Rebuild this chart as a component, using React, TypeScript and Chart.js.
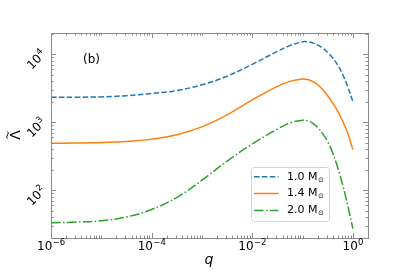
import { useEffect, useRef } from "react";
import { Chart, registerables } from "chart.js";

Chart.register(...registerables);

// ---- data ----
const qValues = [
  1e-6, 3.16e-6, 1e-5, 3.16e-5, 1e-4, 3.16e-4, 1e-3, 3.16e-3, 1e-2, 3.16e-2, 5.62e-2,
  0.1, 0.126, 0.158, 0.2, 0.251, 0.316, 0.398, 0.501, 0.631, 0.794, 1,
];
const lambda10 = [
  2317, 2333, 2355, 2455, 2642, 2917, 3548, 4732, 7079, 10965, 13335,
  15136, 15205, 14622, 13646, 12246, 10544, 8770, 6887, 5012, 3311, 1995,
];
const lambda14 = [
  490, 495, 504, 521, 565, 656, 855, 1279, 2123, 3365, 3981,
  4315, 4236, 3972, 3548, 3013, 2443, 1905, 1439, 1035, 681, 396,
];
const lambda20 = [
  33.4, 34.3, 35.9, 40.7, 52.5, 78.5, 141, 269, 479, 794, 977,
  1072, 1050, 968, 839, 682, 518, 353, 215, 118, 59.3, 27.4,
];
const massLabels = ["1.0", "1.4", "2.0"];

const xTickValues = [1e-6, 1e-4, 1e-2, 1];
const xTickExponents = ["\u22126", "\u22124", "\u22122", "0"];
const yTickValues = [100, 1000, 10000];
const yTickExponents = ["2", "3", "4"];
const xDecades = [1e-6, 1e-5, 1e-4, 1e-3, 1e-2, 1e-1, 1];
const yDecades = [10, 100, 1000, 10000];
const minorMultipliers = [2, 3, 4, 5, 6, 7, 8, 9];

const X_MIN = 1e-6;
const X_MAX = 2.0;
const Y_MIN = 20;
const Y_MAX = 20400;

const COLORS = ["#1f77b4", "#ff7f0e", "#2ca02c"];
const DASHES = [[5.5, 2.4], [], [9.6, 2.4, 1.5, 2.4]];
const FRAME = "#8a8a8a";
const FONT = "'DejaVu Sans'";

function drawPower(ctx: any, base: string, exp: string, cx: number, baseline: number) {
  ctx.font = `12px ${FONT}`;
  const wb = ctx.measureText(base).width;
  ctx.font = `8.5px ${FONT}`;
  const we = ctx.measureText(exp).width;
  const start = cx - (wb + we) / 2;
  ctx.textAlign = "left";
  ctx.textBaseline = "alphabetic";
  ctx.font = `12px ${FONT}`;
  ctx.fillText(base, start, baseline);
  ctx.font = `8.5px ${FONT}`;
  ctx.fillText(exp, start + wb + 0.3, baseline - 5);
}

const decorPlugin = {
  id: "decor",
  afterDraw(chart: any) {
    const { ctx, chartArea: a, scales } = chart;
    const xs = scales.x;
    const ys = scales.y;
    ctx.save();
    ctx.strokeStyle = FRAME;
    ctx.lineWidth = 1;
    ctx.setLineDash([]);
    const line = (x1: number, y1: number, x2: number, y2: number) => {
      ctx.beginPath();
      ctx.moveTo(x1, y1);
      ctx.lineTo(x2, y2);
      ctx.stroke();
    };
    const xTick = (v: number, len: number) => {
      if (v < X_MIN || v > X_MAX) return;
      const px = Math.round(xs.getPixelForValue(v)) + 0.5;
      line(px, a.bottom, px, a.bottom - len);
      line(px, a.top, px, a.top + len);
    };
    const yTick = (v: number, len: number) => {
      if (v < Y_MIN || v > Y_MAX) return;
      const py = Math.round(ys.getPixelForValue(v)) + 0.5;
      line(a.left, py, a.left + len, py);
      line(a.right, py, a.right - len, py);
    };
    xDecades.forEach((d) => {
      xTick(d, xTickValues.includes(d) ? 5 : 2.5);
      minorMultipliers.forEach((m) => xTick(d * m, 2.5));
    });
    yDecades.forEach((d) => {
      yTick(d, yTickValues.includes(d) ? 5 : 2.5);
      minorMultipliers.forEach((m) => yTick(d * m, 2.5));
    });
    ctx.strokeRect(Math.round(a.left) + 0.5, Math.round(a.top) + 0.5, Math.round(a.right - a.left), Math.round(a.bottom - a.top));

    // tick labels
    ctx.fillStyle = "#000";
    xTickValues.forEach((v, i) => {
      const px = xs.getPixelForValue(v);
      drawPower(ctx, "10", xTickExponents[i], px, a.bottom + 12);
    });
    yTickValues.forEach((v, i) => {
      const py = ys.getPixelForValue(v);
      ctx.save();
      ctx.translate(a.left - 14.5, py + 6);
      ctx.rotate(-Math.PI / 4);
      drawPower(ctx, "10", yTickExponents[i], 0, 3.5);
      ctx.restore();
    });

    // legend
    const lx = 251.5, ly = 167.5, lw = 78, lh = 54;
    ctx.beginPath();
    ctx.roundRect(lx, ly, lw, lh, 3);
    ctx.fillStyle = "rgba(255,255,255,0.85)";
    ctx.fill();
    ctx.strokeStyle = "#d4d4d4";
    ctx.lineWidth = 1;
    ctx.stroke();
    const rows = [176.7, 193.5, 210.5];
    massLabels.forEach((lab, i) => {
      ctx.strokeStyle = COLORS[i];
      ctx.lineWidth = 1.5;
      ctx.setLineDash(DASHES[i]);
      line(254, rows[i], 278.5, rows[i]);
      ctx.setLineDash([]);
      ctx.fillStyle = "#000";
      ctx.font = `11px ${FONT}`;
      ctx.textAlign = "left";
      ctx.textBaseline = "middle";
      const t = lab + " M";
      ctx.fillText(t, 287, rows[i]);
      const w = ctx.measureText(t).width;
      ctx.font = `7px ${FONT}`;
      ctx.fillText("\u2299", 287 + w + 0.5, rows[i] + 3);
    });

    // panel label
    ctx.fillStyle = "#000";
    ctx.font = `12px ${FONT}`;
    ctx.textAlign = "left";
    ctx.textBaseline = "middle";
    ctx.fillText("(b)", 83, 60);

    // axis titles
    ctx.font = `italic 14px ${FONT}`;
    ctx.textAlign = "center";
    ctx.fillText("q", 209, 260);
    ctx.translate(15, 135);
    ctx.rotate(-Math.PI / 2);
    ctx.font = `14px ${FONT}`;
    ctx.textBaseline = "alphabetic";
    ctx.fillText("\u039B", 0, 5);
    ctx.strokeStyle = "#000";
    ctx.lineWidth = 1;
    ctx.beginPath();
    ctx.moveTo(-3.5, -7.5);
    ctx.bezierCurveTo(-1.5, -10, 1.5, -5, 3.5, -7.5);
    ctx.stroke();
    ctx.restore();
  },
};

function makePoints(ys: number[]) {
  return qValues.map((q, i) => ({ x: q, y: ys[i] }));
}

export default function App() {
  const ref = useRef<HTMLCanvasElement | null>(null);
  useEffect(() => {
    if (!ref.current) return;
    const series = [lambda10, lambda14, lambda20];
    const chart = new Chart(ref.current, {
      type: "line",
      data: {
        datasets: series.map((s, i) => ({
          label: massLabels[i] + " M\u2299",
          data: makePoints(s),
          borderColor: COLORS[i],
          borderWidth: 1.5,
          borderDash: DASHES[i],
          pointRadius: 0,
          fill: false,
          tension: 0.4,
        })),
      },
      options: {
        responsive: false,
        animation: false,
        devicePixelRatio: 1,
        layout: { padding: { top: 33, right: 41, left: 0, bottom: 0 } },
        plugins: { legend: { display: false }, tooltip: { enabled: false } },
        scales: {
          x: {
            type: "logarithmic",
            min: X_MIN,
            max: X_MAX,
            grid: { display: false, drawTicks: false },
            border: { display: false },
            ticks: { display: false },
            afterFit: (s: any) => {
              s.height = 35;
            },
          },
          y: {
            type: "logarithmic",
            min: Y_MIN,
            max: Y_MAX,
            grid: { display: false, drawTicks: false },
            border: { display: false },
            ticks: { display: false },
            afterFit: (s: any) => {
              s.width = 51;
            },
          },
        },
      },
      plugins: [decorPlugin],
    });
    return () => chart.destroy();
  }, []);
  return (
    <div style={{ position: "fixed", left: 0, top: 0, width: 409, height: 273, background: "#fff" }}>
      <canvas ref={ref} width={409} height={273} style={{ display: "block" }} />
    </div>
  );
}
